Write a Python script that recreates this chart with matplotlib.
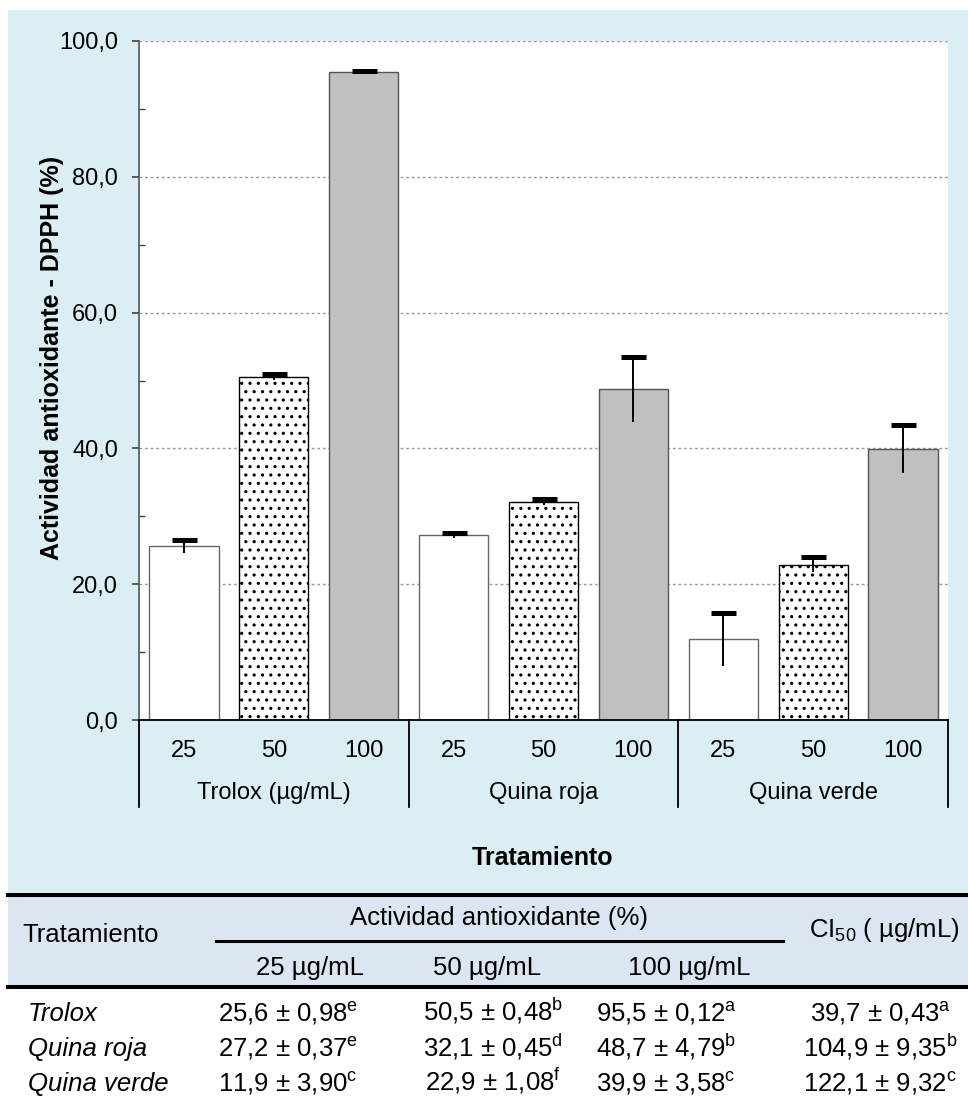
import matplotlib
matplotlib.use('Agg')
import matplotlib.pyplot as plt
import matplotlib.transforms as mtransforms
from matplotlib.patches import Rectangle
from matplotlib.lines import Line2D
import numpy as np

plt.rcParams['font.family'] = ['Liberation Sans', 'DejaVu Sans']
plt.rcParams['mathtext.fontset'] = 'custom'
plt.rcParams['mathtext.rm'] = 'Liberation Sans'
plt.rcParams['mathtext.it'] = 'Liberation Sans:italic'
plt.rcParams['mathtext.bf'] = 'Liberation Sans:bold'
plt.rcParams['hatch.linewidth'] = 1.1
plt.rcParams['hatch.color'] = 'black'

# ---------------- data ----------------
groups = ['Trolox (µg/mL)', 'Quina roja', 'Quina verde']
treatments = ['Trolox', 'Quina roja', 'Quina verde']
doses = ['25', '50', '100']
dose_headers = ['25 µg/mL', '50 µg/mL', '100 µg/mL']

trolox_mean = [25.6, 50.5, 95.5]
trolox_sd = [0.98, 0.48, 0.12]
trolox_letters = ['e', 'b', 'a']

roja_mean = [27.2, 32.1, 48.7]
roja_sd = [0.37, 0.45, 4.79]
roja_letters = ['e', 'd', 'b']

verde_mean = [11.9, 22.9, 39.9]
verde_sd = [3.90, 1.08, 3.58]
verde_letters = ['c', 'f', 'c']

ci50_mean = [39.7, 104.9, 122.1]
ci50_sd = [0.43, 9.35, 9.32]
ci50_letters = ['a', 'b', 'c']

y_ticks = [0, 20, 40, 60, 80, 100]
y_minor = [10, 30, 50, 70, 90]

means = np.array([trolox_mean, roja_mean, verde_mean])
sds = np.array([trolox_sd, roja_sd, verde_sd])
letters = [trolox_letters, roja_letters, verde_letters]

# ---------------- figure ----------------
W, H = 968, 1110
fig = plt.figure(figsize=(W / 100, H / 100), dpi=100)
fig.patch.set_facecolor('white')


def fx(px):
    return px / W


def fy(py):
    return 1 - py / H


fig.add_artist(Rectangle((fx(8), fy(893)), fx(968) - fx(8), fy(10) - fy(893),
                         transform=fig.transFigure, facecolor='#DAEEF3',
                         edgecolor='none', zorder=-10))
fig.add_artist(Rectangle((fx(8), fy(987)), fx(968) - fx(8), fy(895) - fy(987),
                         transform=fig.transFigure, facecolor='#DCE6F2',
                         edgecolor='none', zorder=-10))

ax = fig.add_axes([fx(139), fy(720), fx(948) - fx(139), (720 - 41) / H])
ax.set_facecolor('white')
ax.set_xlim(-0.5, 8.5)
ax.set_ylim(0, 100)

face = ['white', 'white', '#C0C0C0']
hatch = [None, '..', None]
edge = ['#666666', 'black', '#555555']
width = 0.77
for d in range(3):
    xs = np.arange(3) * 3 + d
    ax.bar(xs, means[:, d], width=width, color=face[d], hatch=hatch[d],
           edgecolor=edge[d], linewidth=1.0, zorder=2)

xs_all = np.arange(9)
vals = means.flatten()
errs = sds.flatten()
ax.errorbar(xs_all, vals, yerr=errs, fmt='none', ecolor='black',
            elinewidth=1.4, capsize=0, zorder=3)
ax.plot(xs_all, vals + errs, ls='none', marker='_', ms=18, mew=3.6,
        color='black', zorder=4)

for s in ['top', 'right']:
    ax.spines[s].set_visible(False)
ax.spines['left'].set_color('#555555')
ax.spines['left'].set_linewidth(1.2)
ax.spines['bottom'].set_color('black')
ax.spines['bottom'].set_linewidth(1.3)

ax.set_yticks(y_ticks)
ax.set_yticklabels([f"{v:.1f}".replace('.', ',') for v in y_ticks])
ax.set_yticks(y_minor, minor=True)
ax.tick_params(axis='y', which='major', direction='out', length=5, width=1.2,
               color='#444444', labelsize=17, pad=10)
ax.tick_params(axis='y', which='minor', direction='in', length=4.3, width=1.0,
               color='#444444')
ax.yaxis.grid(True, which='major', color='#999999', linestyle=(0, (2, 2)),
              linewidth=1.0)
ax.set_axisbelow(True)

ax.set_xticks(xs_all)
ax.set_xticklabels(doses * 3)
ax.tick_params(axis='x', length=0, labelsize=17, pad=14.5)

trans = mtransforms.blended_transform_factory(ax.transData, ax.transAxes)
for g in range(3):
    ax.text(3 * g + 1, -(793 - 720) / 679, groups[g], transform=trans,
            ha='center', va='center', fontsize=17)
for xb in [-0.5, 2.5, 5.5, 8.5]:
    ax.plot([xb, xb], [0, -(807 - 720) / 679], transform=trans,
            color='black', lw=1.3, clip_on=False)

fig.text(fx(543), fy(858), 'Tratamiento', ha='center', va='center',
         fontsize=18, fontweight='bold')
fig.text(fx(52), fy(358), 'Actividad antioxidante - DPPH (%)', rotation=90,
         ha='center', va='center', fontsize=18, fontweight='bold')

# ---------------- table ----------------
fig.add_artist(Line2D([fx(8), fx(968)], [fy(895)] * 2, lw=2.9, color='black'))
fig.add_artist(Line2D([fx(8), fx(968)], [fy(987)] * 2, lw=2.9, color='black'))
fig.add_artist(Line2D([fx(216), fx(783)], [fy(941)] * 2, lw=2.2, color='black'))

tfs = 18.5
bl = 9  # px from visual centre to baseline
fig.text(fx(22), fy(933 + bl), 'Tratamiento', ha='left', va='baseline',
         fontsize=tfs)
fig.text(fx(499), fy(916 + bl), 'Actividad antioxidante (%)', ha='center',
         va='baseline', fontsize=tfs)
col_x = [310, 487, 689]
for i, h in enumerate(dose_headers):
    fig.text(fx(col_x[i]), fy(966 + bl), h, ha='center', va='baseline',
             fontsize=tfs)
fig.text(fx(884), fy(928 + bl), 'CI$_{50}$ ( µg/mL)', ha='center',
         va='baseline', fontsize=tfs)


def fmt(m, s, l):
    return (f"{m:.1f}".replace('.', ',') + ' ± ' +
            f"{s:.2f}".replace('.', ',') + r'$^{\mathrm{' + l + '}}$')


row_y = [1012, 1047, 1082]
val_x = [288, 493, 666, 880]
for r in range(3):
    fig.text(fx(28), fy(row_y[r] + bl), treatments[r], ha='left',
             va='baseline', fontsize=tfs, style='italic')
    for c in range(3):
        fig.text(fx(val_x[c]), fy(row_y[r] + bl),
                 fmt(means[r, c], sds[r, c], letters[r][c]),
                 ha='center', va='baseline', fontsize=tfs)
    fig.text(fx(val_x[3]), fy(row_y[r] + bl),
             fmt(ci50_mean[r], ci50_sd[r], ci50_letters[r]),
             ha='center', va='baseline', fontsize=tfs)

fig.savefig('out.png', dpi=100, facecolor='white')
